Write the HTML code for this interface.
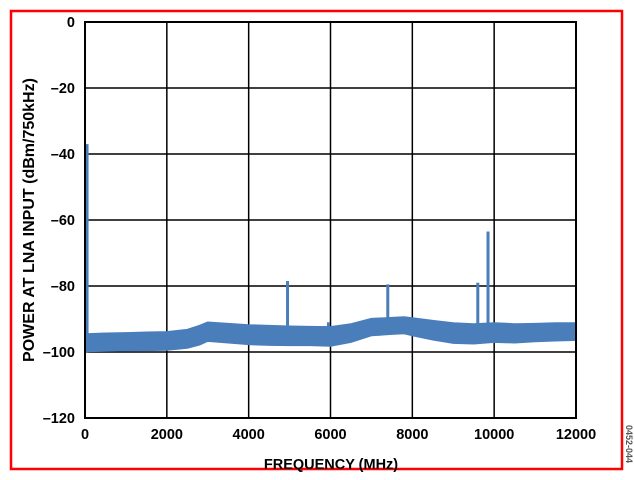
<!DOCTYPE html>
<html><head><meta charset="utf-8"><style>
html,body{margin:0;padding:0;background:#fff;}
svg{display:block;}
text{font-family:"Liberation Sans",Arial,sans-serif;font-weight:bold;}
</style></head><body>
<svg id="chart" width="634" height="480" xmlns="http://www.w3.org/2000/svg">
<rect x="11" y="11" width="611" height="458" fill="none" stroke="#ff0000" stroke-width="2.5"/>
<g id="grid"></g>
<g id="series"></g>
<g id="axes"></g>
<text x="331" y="469" text-anchor="middle" font-size="14.5">FREQUENCY (MHz)</text>
<text transform="translate(34,220) rotate(-90)" text-anchor="middle" font-size="16">POWER AT LNA INPUT (dBm/750kHz)</text>
<text transform="translate(626,425) rotate(90)" font-size="9" font-weight="normal" fill="#555">0452-044</text>
</svg>
<script>
const xTicks=[0,2000,4000,6000,8000,10000,12000];
const yTicks=[0,-20,-40,-60,-80,-100,-120];
const bandFreq=[0,100,500,1000,1500,2000,2500,2800,3000,3500,4000,4500,5000,5500,6000,6500,7000,7500,7800,8000,8500,9000,9500,10000,10500,11000,11500,12000];
const bandUpper=[-94.8,-94.5,-94.3,-94.2,-94,-93.9,-93.2,-92,-91,-91.4,-91.8,-92,-92.2,-92.3,-92.4,-91.5,-89.9,-89.6,-89.4,-89.7,-90.5,-91.2,-91.5,-91.2,-91.5,-91.4,-91.2,-91.2];
const bandLower=[-100,-99.8,-99.7,-99.6,-99.5,-99.4,-98.8,-97.8,-96.7,-97.2,-97.7,-97.9,-98,-98,-98.2,-97,-95,-94.6,-94.4,-95,-96.3,-97.3,-97.5,-97,-97.2,-96.8,-96.6,-96.4];
const spikeFreq=[50,4950,5950,7400,9600,9850];
const spikeLevel=[-37,-78.5,-91,-79.5,-79,-63.5];
const X0=85,X1=576,Y0=22,Y1=418;
const xs=f=>X0+(f-0)/12000*(X1-X0);
const ys=v=>Y0+(0-v)/120*(Y1-Y0);
const NS="http://www.w3.org/2000/svg";
function mk(tag,parent,attrs){const e=document.createElementNS(NS,tag);for(const k in attrs)e.setAttribute(k,attrs[k]);parent.appendChild(e);return e;}
const grid=document.getElementById('grid'),axes=document.getElementById('axes'),series=document.getElementById('series');
xTicks.forEach(t=>{
 const l=mk('line',grid,{x1:xs(t),x2:xs(t),y1:Y0,y2:Y1,stroke:'#000','stroke-width':1.5});
 
 
 const tx=mk('text',axes,{x:xs(t),y:Y1+21,'text-anchor':'middle','font-size':14.5});
 tx.textContent=t;
 
 
});
yTicks.forEach(t=>{
 const l=mk('line',grid,{x1:X0,x2:X1,y1:ys(t),y2:ys(t),stroke:'#000','stroke-width':1.5});
 
 
 const tx=mk('text',axes,{x:X0-10,y:ys(t)+5,'text-anchor':'end','font-size':14.5});
 tx.textContent=t===0?'0':'\u2013'+(-t);
 
 
});
const fr=mk('rect',axes,{x:X0,y:Y0,width:X1-X0,height:Y1-Y0,fill:'none',stroke:'#000','stroke-width':2});


let pts=[];
bandFreq.forEach((f,i)=>pts.push(xs(f)+','+ys(bandUpper[i])));
for(let i=bandFreq.length-1;i>=0;i--)pts.push(xs(bandFreq[i])+','+ys(bandLower[i]));
const band=mk('polygon',series,{points:pts.join(' '),fill:'#4a7ebb',stroke:'#4a7ebb','stroke-width':1.5});


spikeFreq.forEach((f,i)=>{
 const j=bandFreq.findIndex(b=>b>=f);
 const base=bandUpper[Math.max(j,0)];
 const s=mk('line',series,{x1:xs(f),x2:xs(f),y1:ys(spikeLevel[i]),y2:ys(base)+2,stroke:'#4a7ebb','stroke-width':3});
 
 
});
</script>
</body></html>
